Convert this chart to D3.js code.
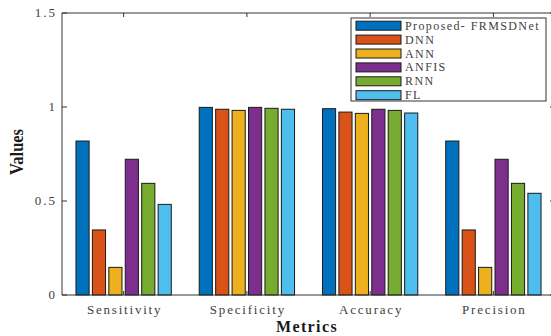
<!DOCTYPE html>
<html><head><meta charset="utf-8">
<script src="https://cdn.jsdelivr.net/npm/d3@7"></script>
<style>body{margin:0;background:#fff}svg{display:block}</style>
</head><body>
<script>
const categories = ["Sensitivity","Specificity","Accuracy","Precision"];
const seriesNames = ["Proposed- FRMSDNet","DNN","ANN","ANFIS","RNN","FL"];
const proposed = [0.819, 0.998, 0.991, 0.819];
const dnn      = [0.346, 0.988, 0.973, 0.346];
const ann      = [0.147, 0.982, 0.966, 0.147];
const anfis    = [0.722, 0.998, 0.988, 0.722];
const rnn      = [0.594, 0.993, 0.982, 0.594];
const fl       = [0.482, 0.988, 0.968, 0.541];
const yTicks = [0, 0.5, 1, 1.5];
const yTickLabels = ["0","0.5","1","1.5"];
const colors = ["#0072BD","#D95319","#EDB120","#7E2F8E","#77AC30","#4DBEEE"];

const seriesValues = [proposed, dnn, ann, anfis, rnn, fl];
const W = 551, H = 336;
const L = 62, R = 555, T = 13, B = 295;
const axisColor = "#333";
const labelColor = "#404040";
const serif = "'Liberation Serif','Times New Roman',serif";

const svg = d3.select("body").append("svg").attr("width", W).attr("height", H);

const x = d3.scaleLinear().domain([0.5, 4.5]).range([L, R]);
const y = d3.scaleLinear().domain([0, 1.5]).range([B, T]);
const unit = x(1) - x(0);
const step = unit * 0.8 / 6;
const xInner = d3.scaleBand().domain(seriesNames).range([-3*step, 3*step]).paddingInner(0.2).paddingOuter(0.1);

// bars
categories.forEach((c, ci) => {
  seriesNames.forEach((s, si) => {
    const v = seriesValues[si][ci];
    svg.append("rect")
      .attr("x", x(ci+1) + xInner(s))
      .attr("y", y(v))
      .attr("width", xInner.bandwidth())
      .attr("height", y(0) - y(v))
      .attr("fill", colors[si])
      .attr("stroke", "#1a1a1a")
      .attr("stroke-width", 1);
  });
});

// axes box
const g = svg.append("g");
g.append("line").attr("x1", L).attr("x2", R).attr("y1", T).attr("y2", T).attr("stroke", axisColor);
g.append("line").attr("x1", L).attr("x2", R).attr("y1", B).attr("y2", B).attr("stroke", axisColor);
g.append("line").attr("x1", L).attr("x2", L).attr("y1", T).attr("y2", B).attr("stroke", axisColor);
g.append("line").attr("x1", R).attr("x2", R).attr("y1", T).attr("y2", B).attr("stroke", axisColor);

// y ticks
yTicks.forEach((t, i) => {
  g.append("line").attr("x1", L).attr("x2", L+5).attr("y1", y(t)).attr("y2", y(t)).attr("stroke", axisColor);
  g.append("line").attr("x1", R).attr("x2", R-5).attr("y1", y(t)).attr("y2", y(t)).attr("stroke", axisColor);
  g.append("text").attr("x", 57).attr("y", y(t)+4).attr("text-anchor","end")
    .attr("font-family", serif).attr("font-size", 13).attr("fill", labelColor).attr("letter-spacing", 2)
    .text(yTickLabels[i]);
});
// x ticks
categories.forEach((c, i) => {
  const cx = x(i+1);
  g.append("line").attr("x1", cx).attr("x2", cx).attr("y1", T).attr("y2", T+4).attr("stroke", axisColor);
  g.append("line").attr("x1", cx).attr("x2", cx).attr("y1", B).attr("y2", B-4).attr("stroke", axisColor);
  g.append("text").attr("x", cx + 1).attr("y", 313.5).attr("text-anchor","middle")
    .attr("font-family", serif).attr("font-size", 13).attr("fill", labelColor).attr("letter-spacing", 1.8)
    .text(c);
});

// axis labels
svg.append("text").attr("x", 307).attr("y", 332).attr("text-anchor","middle")
  .attr("font-family", serif).attr("font-size", 16).attr("font-weight","bold").attr("fill","#1a1a1a")
  .attr("letter-spacing", 1.4).text("Metrics");
svg.append("text").attr("transform", "translate(23,152) rotate(-90)").attr("text-anchor","middle")
  .attr("font-family", serif).attr("font-size", 19).attr("font-weight","bold").attr("fill","#1a1a1a")
  .attr("textLength", 46).attr("lengthAdjust", "spacingAndGlyphs")
  .text("Values");

// legend
const lg = svg.append("g");
lg.append("rect").attr("x", 351).attr("y", 18).attr("width", 195).attr("height", 83)
  .attr("fill", "#fff").attr("stroke", axisColor);
seriesNames.forEach((s, i) => {
  const cy = 25.7 + i * 13.9;
  lg.append("rect").attr("x", 356).attr("y", cy-4.5).attr("width", 45).attr("height", 9)
    .attr("fill", colors[i]).attr("stroke", "#1a1a1a");
  lg.append("text").attr("x", 405).attr("y", cy+4).attr("font-family", serif).attr("font-size", 12)
    .attr("fill", labelColor).attr("letter-spacing", 1.4).text(s);
});
</script>
</body></html>
